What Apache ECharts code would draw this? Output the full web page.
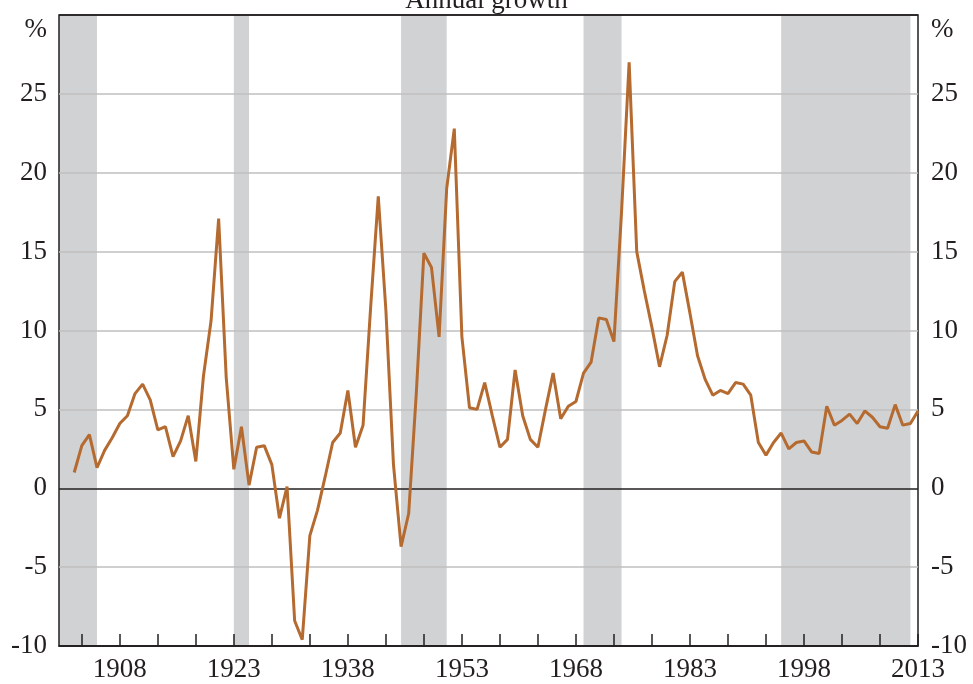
<!DOCTYPE html>
<html>
<head>
<meta charset="utf-8">
<script src="https://cdn.jsdelivr.net/npm/echarts@6/dist/echarts.min.js"></script>
<style>
  html, body { margin: 0; padding: 0; background: #fff; }
  #chart { width: 973px; height: 684px; }
</style>
</head>
<body>
<div id="chart"></div>
<script>
// annual growth, %, 1902-2013
const years = [];
for (let y = 1902; y <= 2013; y++) years.push(y);

const growth = [
  1.0, 2.7, 3.4, 1.3, 2.4, 3.2, 4.1, 4.6, 6.0, 6.6,          // 1902-1911
  5.6, 3.7, 3.9, 2.0, 3.0, 4.6, 1.7, 7.1, 10.6, 17.1,        // 1912-1921
  7.0, 1.2, 3.9, 0.2, 2.6, 2.7, 1.5, -1.9, 0.1, -8.4,        // 1922-1931
  -9.6, -3.0, -1.4, 0.7, 2.9, 3.5, 6.2, 2.6, 4.0, 11.5,      // 1932-1941
  18.5, 11.3, 1.5, -3.7, -1.6, 6.0, 14.9, 14.0, 9.6, 19.0,   // 1942-1951
  22.8, 9.6, 5.1, 5.0, 6.7, 4.6, 2.6, 3.1, 7.5, 4.6,         // 1952-1961
  3.1, 2.6, 5.0, 7.3, 4.4, 5.2, 5.5, 7.3, 8.0, 10.8,         // 1962-1971
  10.7, 9.3, 17.5, 27.0, 15.0, 12.5, 10.2, 7.7, 9.7, 13.1,   // 1972-1981
  13.7, 11.1, 8.4, 6.9, 5.9, 6.2, 6.0, 6.7, 6.6, 5.9,        // 1982-1991
  2.9, 2.1, 2.9, 3.5, 2.5, 2.9, 3.0, 2.3, 2.2, 5.2,          // 1992-2001
  4.0, 4.3, 4.7, 4.1, 4.9, 4.5, 3.9, 3.8, 5.3, 4.0,          // 2002-2011
  4.1, 4.9                                                   // 2012-2013
];

// shaded periods
const bandStarts = [1900, 1923, 1945, 1969, 1995];
const bandEnds = [1905, 1925, 1951, 1974, 2012];

const tickYears = [];
for (let y = 1903; y <= 2013; y += 5) tickYears.push(y);
const labelYears = [1908, 1923, 1938, 1953, 1968, 1983, 1998, 2013];

const ink = '#231f20';
const font = 'Liberation Serif, Times New Roman, serif';

const points = years.map((y, i) => [y, growth[i]]);
const bands = bandStarts.map((s, i) => [{ xAxis: s }, { xAxis: bandEnds[i] }]);

const yLabel = (v) => (v === 30 ? '{p|%}' : String(v));
const labelStyle = {
  color: ink, fontFamily: font, fontSize: 27,
  rich: { p: { fontFamily: font, fontSize: 27, color: ink, padding: [30, 0, 0, 0] } }
};

const chart = echarts.init(document.getElementById('chart'), null, { renderer: 'canvas' });
chart.setOption({
  animation: false,
  title: {
    text: 'Annual growth',
    left: 'center',
    top: -18,
    textStyle: { color: ink, fontFamily: font, fontSize: 27, fontWeight: 'normal' }
  },
  grid: {
    left: 59, right: 55, top: 15, bottom: 38,
    show: true, borderColor: ink, borderWidth: 1.5, backgroundColor: 'transparent'
  },
  xAxis: {
    type: 'value',
    min: 1900,
    max: 2013,
    axisLine: { show: true, onZero: false, lineStyle: { color: ink, width: 1.5 } },
    axisTick: { show: true, inside: true, length: 12, customValues: tickYears, lineStyle: { color: ink, width: 1.5 } },
    axisLabel: {
      customValues: labelYears, margin: 10, color: ink, fontFamily: font, fontSize: 27,
      formatter: (v) => String(v)
    },
    splitLine: { show: false }
  },
  yAxis: [
    {
      type: 'value', min: -10, max: 30, interval: 5, position: 'left',
      axisLine: { show: false }, axisTick: { show: false },
      axisLabel: Object.assign({ margin: 12, formatter: yLabel }, labelStyle),
      splitLine: {
        show: true,
        lineStyle: { width: 1.5, color: [ink, '#bfbfc1', ink, '#bfbfc1', '#bfbfc1', '#bfbfc1', '#bfbfc1', '#bfbfc1', ink] }
      }
    },
    {
      type: 'value', min: -10, max: 30, interval: 5, position: 'right',
      axisLine: { show: false }, axisTick: { show: false },
      axisLabel: Object.assign({ margin: 13, formatter: yLabel }, labelStyle),
      splitLine: { show: false }
    }
  ],
  series: [
    {
      name: 'Annual growth',
      type: 'line',
      z: 3,
      data: points,
      showSymbol: false,
      lineStyle: { color: '#b56a30', width: 3 },
      itemStyle: { color: '#b56a30' },
      markArea: { silent: true, z: -1, itemStyle: { color: '#d1d2d4' }, data: bands }
    }
  ]
});

window.addEventListener('resize', () => chart.resize());
</script>
</body>
</html>
